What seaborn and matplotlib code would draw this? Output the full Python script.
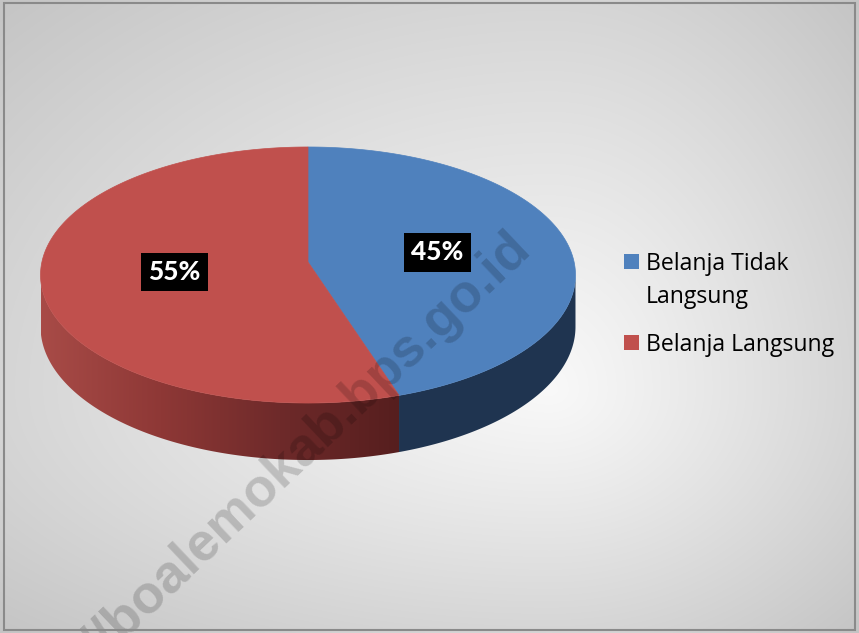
import numpy as np
import matplotlib
matplotlib.use("Agg")
import matplotlib.pyplot as plt
from matplotlib.patches import Polygon, Rectangle
import seaborn as sns

# ---- data ----
categories = ["Belanja Tidak Langsung", "Belanja Langsung"]
legend_labels = ["Belanja Tidak\nLangsung", "Belanja Langsung"]
shares = [45, 55]
label_texts = ["45%", "55%"]
watermark = "https://boalemokab.bps.go.id"

sns.set_theme(style="white")
plt.rcParams["font.family"] = ["Open Sans", "DejaVu Sans"]

top_colors = sns.color_palette(["#4F81BD", "#C0504D"])
side_colors = ["#1F3450", None]          # red side uses a horizontal gradient
red_side_ramp = ["#A84B47", "#8E3836", "#6E2A2A", "#561E1E"]

W, H = 859, 633
fig = plt.figure(figsize=(W / 100, H / 100), dpi=100)
ax = fig.add_axes([0, 0, 1, 1])
ax.set_xlim(0, W)
ax.set_ylim(H, 0)
ax.axis("off")

# ---- background: soft radial grey gradient ----
yy, xx = np.mgrid[0:H, 0:W] + 0.5
gcx, gcy = 550, 390
nx = np.where(xx < gcx, (gcx - xx) / gcx, (xx - gcx) / (W - gcx))
ny = np.where(yy < gcy, (gcy - yy) / gcy, (yy - gcy) / (H - gcy))
d = np.clip(np.sqrt(nx ** 2 + ny ** 2) / np.sqrt(2), 0, 1)
g = 0.975 - (0.975 - 0.77) * d ** 1.1
ax.imshow(np.dstack([g, g, g]), extent=(0, W, H, 0), zorder=0, interpolation="bilinear")

# ---- 3D pie geometry (perspective-tilted disc) ----
cx, cy = 308.0, 262.0     # pie centre on screen
A, B = 266.1, 126.7       # disc radii before perspective
k = 0.1016                # perspective strength
depth = 51.2              # thickness of the disc


def proj(theta, r=1.0, drop=0.0):
    u, v = r * np.cos(theta), r * np.sin(theta)
    w = 1.0 - k * v
    return cx + A * u / w, cy + B * v / w + drop / w


def arc(t0, t1, drop=0.0, n=200):
    t = np.linspace(t0, t1, n)
    x, y = proj(t, drop=drop)
    return np.column_stack([x, y])


fractions = np.array(shares, dtype=float) / np.sum(shares)
bounds = -np.pi / 2 + 2 * np.pi * np.concatenate([[0], np.cumsum(fractions)])

# visible front side lies between the two silhouette points
t_right = np.arcsin(k)
t_left = np.pi - np.arcsin(k)

for i in range(len(shares)):
    t0, t1 = bounds[i], bounds[i + 1]
    s0, s1 = max(t0, t_right), min(t1, t_left)
    if s1 <= s0:
        continue
    top = arc(s0, s1)
    bot = arc(s0, s1, drop=depth)[::-1]
    poly = Polygon(np.vstack([top, bot]), closed=True, lw=0, zorder=2)
    if side_colors[i] is not None:
        poly.set_facecolor(side_colors[i])
        ax.add_patch(poly)
    else:
        poly.set_facecolor("none")
        ax.add_patch(poly)
        xs = np.vstack([top, bot])[:, 0]
        ramp = matplotlib.colors.LinearSegmentedColormap.from_list("side", red_side_ramp)
        grad = np.linspace(0, 1, 256)[None, :]
        im = ax.imshow(grad, cmap=ramp, aspect="auto",
                       extent=(xs.min(), xs.max(), H, 0), zorder=2)
        im.set_clip_path(poly)

# top face wedges
for i in range(len(shares)):
    pts = np.vstack([[cx, cy], arc(bounds[i], bounds[i + 1])])
    ax.add_patch(Polygon(pts, closed=True, facecolor=top_colors[i],
                         edgecolor=top_colors[i], lw=0.5, zorder=3))

# ---- watermark ----
ax.text(532, 250, watermark, rotation=43.5, rotation_mode="anchor",
        ha="right", va="baseline", fontsize=38.5, fontweight="bold",
        family=["Liberation Sans", "DejaVu Sans"], color="black", alpha=0.17, zorder=4)

# ---- percentage labels at half radius along each slice's mid angle ----
for i, txt in enumerate(label_texts):
    mid = 0.5 * (bounds[i] + bounds[i + 1])
    ex, ey = proj(mid)
    lx, ly = cx + 0.5 * (ex - cx), cy + 0.5 * (ey - cy)
    ax.text(lx, ly, txt, ha="center", va="center", color="white",
            fontsize=19, fontweight=900, family=["Lato", "DejaVu Sans"], zorder=5,
            bbox=dict(boxstyle="square,pad=0.28", facecolor="black", edgecolor="none"))

# ---- legend ----
legend_rows = [(254, 270), (335, 351)]
for i, lab in enumerate(legend_labels):
    sy, base = legend_rows[i]
    ax.add_patch(Rectangle((624, sy), 15, 14.5, facecolor=top_colors[i], lw=0, zorder=5))
    for j, line in enumerate(lab.split("\n")):
        ax.text(646, base + 33 * j, line, ha="left", va="baseline",
                fontsize=16.6, color="black", zorder=5)

# ---- chart frame ----
ax.add_patch(Rectangle((4, 3), 851, 627, facecolor="none", edgecolor="#8A8A8A", lw=1.5, zorder=6))

fig.savefig("out.png", dpi=100)
